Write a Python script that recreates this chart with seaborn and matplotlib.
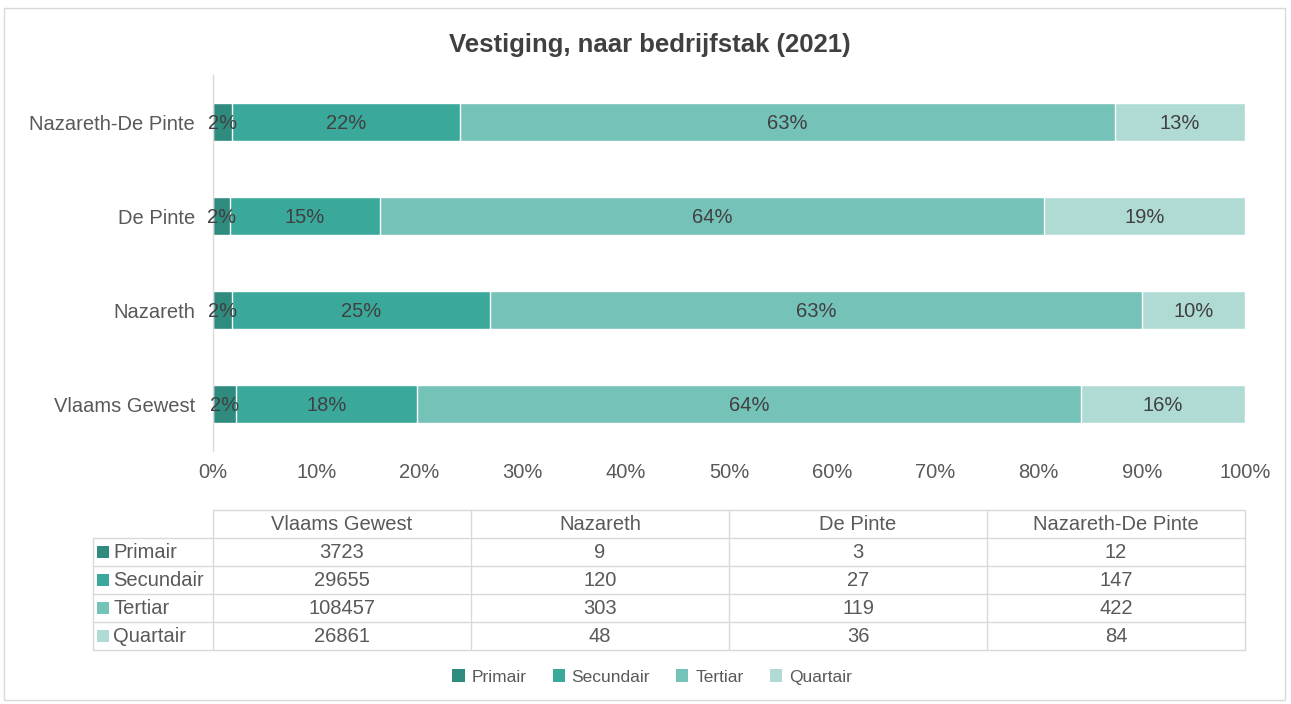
import numpy as np
import pandas as pd
import matplotlib
matplotlib.use("Agg")
import matplotlib.pyplot as plt
from matplotlib.patches import Rectangle, Patch
import seaborn as sns

regions = ["Vlaams Gewest", "Nazareth", "De Pinte", "Nazareth-De Pinte"]
sectors = ["Primair", "Secundair", "Tertiar", "Quartair"]
primair = [3723, 9, 3, 12]
secundair = [29655, 120, 27, 147]
tertiar = [108457, 303, 119, 422]
quartair = [26861, 48, 36, 84]
colors = ["#2e8b7e", "#3aa99c", "#75c2b8", "#b0dbd5"]

counts = np.array([primair, secundair, tertiar, quartair], dtype=float)  # sectors x regions
share = counts / counts.sum(axis=0) * 100
cum = np.cumsum(share, axis=0)

sns.set_theme(style="white")
plt.rcParams["font.family"] = ["Liberation Sans", "DejaVu Sans"]
TXT = "#595959"
FS = 14.5

W, H = 1291, 704
fig = plt.figure(figsize=(W / 100, H / 100), dpi=100)
fig.patch.set_facecolor("white")

# outer frame
fig.add_artist(Rectangle((4 / W, 4 / H), (W - 10) / W, (H - 12) / H, transform=fig.transFigure,
                         fill=False, edgecolor="#d9d9d9", lw=1))

ax_l, ax_r, ax_t, ax_b = 213, 1245, 75, 451
ax = fig.add_axes([ax_l / W, 1 - ax_b / H, (ax_r - ax_l) / W, (ax_b - ax_t) / H])

order = regions[::-1]
for i in range(len(sectors) - 1, -1, -1):
    df = pd.DataFrame({"region": regions, "value": cum[i]})
    sns.barplot(data=df, x="value", y="region", order=order, color=colors[i],
                width=0.4, saturation=1, ax=ax, orient="h")

for i in range(len(sectors)):
    for j, reg in enumerate(regions):
        ypos = order.index(reg)
        start = cum[i][j] - share[i][j]
        ax.text(start + share[i][j] / 2, ypos + 0.02, f"{share[i][j]:.0f}%", ha="center", va="center",
                fontsize=FS, color="#404040")

ax.set_xlim(0, 100)
ax.set_ylim(3.5, -0.5)
ax.set_xticks(np.arange(0, 101, 10))
ax.set_xticklabels([f"{v}%" for v in range(0, 101, 10)], fontsize=FS, color=TXT)
ax.tick_params(axis="y", labelsize=FS, labelcolor=TXT, length=0, pad=13)
ax.tick_params(axis="x", length=0, pad=9)
ax.set_xlabel("")
ax.set_ylabel("")
for s in ["top", "right", "bottom"]:
    ax.spines[s].set_visible(False)
ax.spines["left"].set_color("#d9d9d9")
ax.spines["left"].set_linewidth(1)

fig.text(650 / W, 1 - 45 / H, "Vestiging, naar bedrijfstak (2021)", ha="center", va="center",
         fontsize=18.5, fontweight="bold", color="#404040")

# data table
tab = fig.add_axes([0, 0, 1, 1], zorder=-1)
tab.set_xlim(0, W)
tab.set_ylim(H, 0)
tab.axis("off")
t_left, t_first, t_right = 93, 213, 1245
row_top, row_h = 510, 28
col_w = (t_right - t_first) / len(regions)
gc = "#d9d9d9"
n_rows = len(sectors) + 1
tab.plot([t_first, t_right], [row_top, row_top], color=gc, lw=1)
for r in range(1, n_rows + 1):
    y = row_top + r * row_h
    tab.plot([t_left, t_right], [y, y], color=gc, lw=1)
tab.plot([t_left, t_left], [row_top + row_h, row_top + n_rows * row_h], color=gc, lw=1)
for c in range(len(regions) + 1):
    x = t_first + c * col_w
    tab.plot([x, x], [row_top, row_top + n_rows * row_h], color=gc, lw=1)
for c, reg in enumerate(regions):
    tab.text(t_first + (c + 0.5) * col_w, row_top + row_h / 2 + 1, reg, ha="center", va="center",
             fontsize=FS, color=TXT)
for r, sec in enumerate(sectors):
    yc = row_top + (r + 1.5) * row_h + 1
    tab.add_patch(Rectangle((97, yc - 7), 12, 12, facecolor=colors[r], edgecolor="none"))
    tab.text(113, yc, sec, ha="left", va="center", fontsize=FS, color=TXT)
    for c in range(len(regions)):
        tab.text(t_first + (c + 0.5) * col_w, yc, f"{int(counts[r][c])}", ha="center", va="center",
                 fontsize=FS, color=TXT)

handles = [Patch(facecolor=colors[i], edgecolor="none", label=sectors[i]) for i in range(len(sectors))]
fig.legend(handles=handles, loc="center", bbox_to_anchor=(652 / W, 1 - 677 / H), ncol=4,
           frameon=False, fontsize=12.5, handlelength=0.7, handleheight=0.7, handletextpad=0.4,
           columnspacing=1.5, labelcolor=TXT)

fig.savefig("out.png", dpi=100, facecolor="white")
